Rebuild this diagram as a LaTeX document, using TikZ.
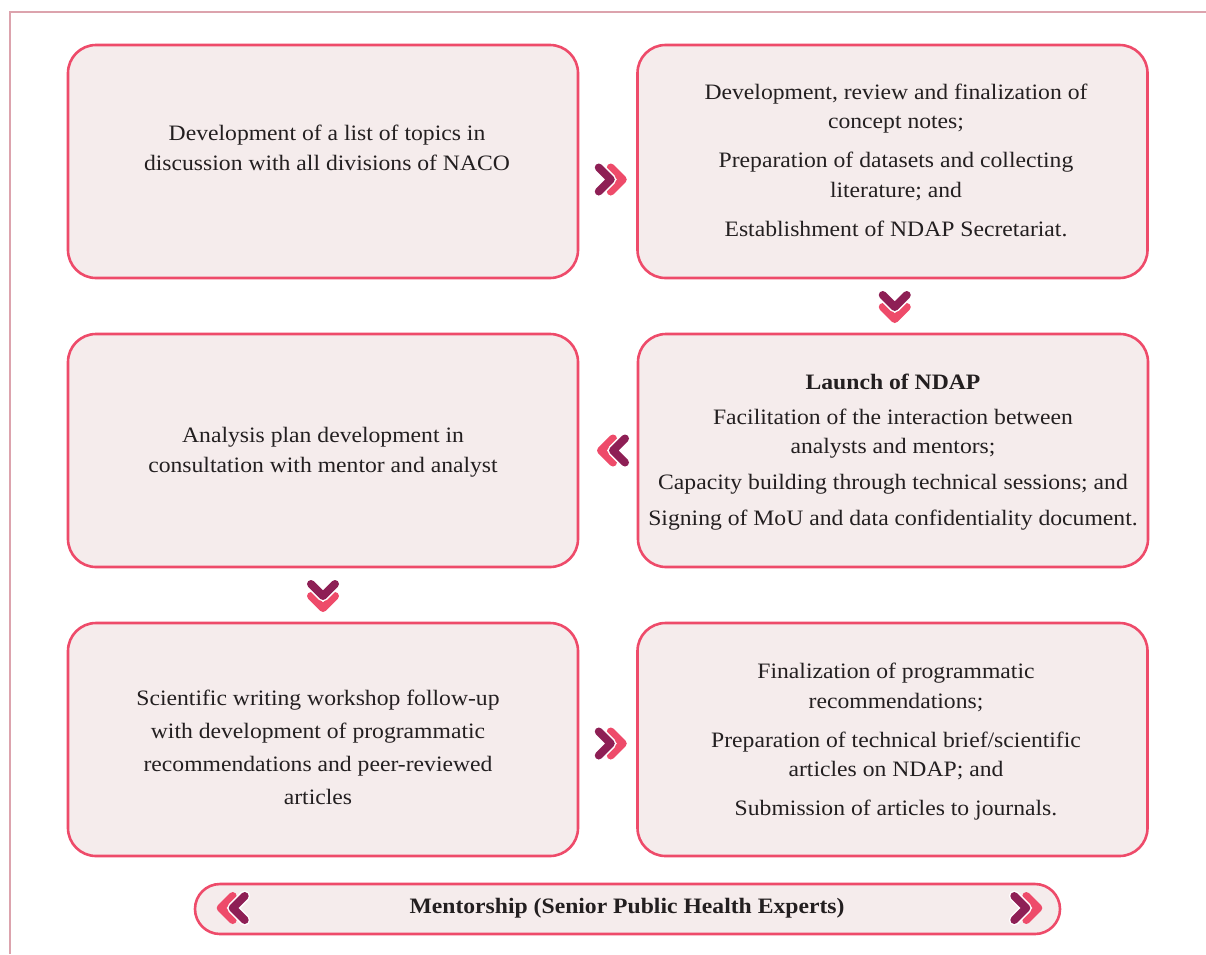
\documentclass[tikz,border=0pt]{standalone}
\usepackage{fontspec}
\setmainfont[FakeStretch=1.075]{Liberation Serif}
\usetikzlibrary{calc}
\definecolor{edge}{HTML}{EE4B6A}
\definecolor{panel}{HTML}{F5ECEC}
\definecolor{plum}{HTML}{8E1F55}
\definecolor{frame}{HTML}{DCA3AD}
\definecolor{ink}{HTML}{231F20}
\tikzset{
  x=1pt, y=-1pt,
  stepbox/.style={draw=edge, fill=panel, line width=2.6pt, rounded corners=28pt,
    minimum width=510pt, minimum height=233pt, inner sep=0pt},
  boxtext/.style={text=ink, align=center, font=\fontsize{22}{29.5}\selectfont, inner sep=0pt},
  chevstroke/.style={line width=8pt, line cap=round, line join=round},
  pics/chevpair/.style={code={
    \draw[chevstroke, edge] (-1,-12) -- (11,0) -- (-1,12);
    \draw[chevstroke, white, line width=11pt] (-13,-12) -- (-1,0) -- (-13,12);
    \draw[chevstroke, plum] (-13,-12) -- (-1,0) -- (-13,12);
  }}
}
\begin{document}
\begin{tikzpicture}
\useasboundingbox (0,0) rectangle (1206,954);
% outer frame
\draw[frame, line width=1.6pt] (10,954) -- (10,12) -- (1206,12);

% step panels
\node[stepbox] (b1) at (323,161.5) {};
\node[stepbox] (b2) at (892.5,161.5) {};
\node[stepbox] (b3) at (323,450.5) {};
\node[stepbox] (b4) at (893,450.5) {};
\node[stepbox] (b5) at (323,739.5) {};
\node[stepbox] (b6) at (892.5,739.5) {};

% panel texts
\node[boxtext] (t1) at (327,148) {Development of a list of topics in\\discussion with all divisions of NACO};
\node[boxtext] (t2) at (896,160) {Development, review and finalization of\\concept notes;\\[9.5pt]Preparation of datasets and collecting\\literature; and\\[9.5pt]Establishment of NDAP Secretariat.};
\node[boxtext] (t3) at (323,452) {Analysis plan development in\\consultation with mentor and analyst};
\node[boxtext] (t4) at (893,452) {\textbf{Launch of NDAP}\\[5.5pt]Facilitation of the interaction between\\analysts and mentors;\\[6.5pt]Capacity building through technical sessions; and\\[6.5pt]Signing of MoU and data confidentiality document.};
\node[boxtext, font=\fontsize{22}{33}\selectfont] (t5) at (318,747) {Scientific writing workshop follow-up\\with development of programmatic\\recommendations and peer-reviewed\\articles};
\node[boxtext] (t6) at (896,742) {Finalization of programmatic\\recommendations;\\[9.5pt]Preparation of technical brief/scientific\\articles on NDAP; and\\[9.5pt]Submission of articles to journals.};

% flow markers between panels
\pic at ($(b1.east)!0.5!(b2.west)+(4,18)$) {chevpair};
\pic[rotate=-90] at ($(b2.south)!0.5!(b4.north)+(2,2)$) {chevpair};
\pic[rotate=180] at ($(b4.west)!0.5!(b3.east)+(4,0)$) {chevpair};
\pic[rotate=-90] at ($(b3.south)!0.5!(b5.north)+(0,2)$) {chevpair};
\pic at ($(b5.east)!0.5!(b6.west)+(4,4)$) {chevpair};

% mentorship bar
\node[draw=edge, fill=panel, line width=2.6pt, rounded corners=25pt,
  minimum width=865pt, minimum height=50pt, inner sep=0pt] (bar) at (627.5,909) {};
\node[text=ink, font=\fontsize{22}{26}\bfseries] (bt) at (627,908) {Mentorship (Senior Public Health Experts)};
\pic[rotate=180] at ($(bar.west)+(38,-1)$) {chevpair};
\pic at ($(bar.east)+(-34,-1)$) {chevpair};
\end{tikzpicture}
\end{document}
